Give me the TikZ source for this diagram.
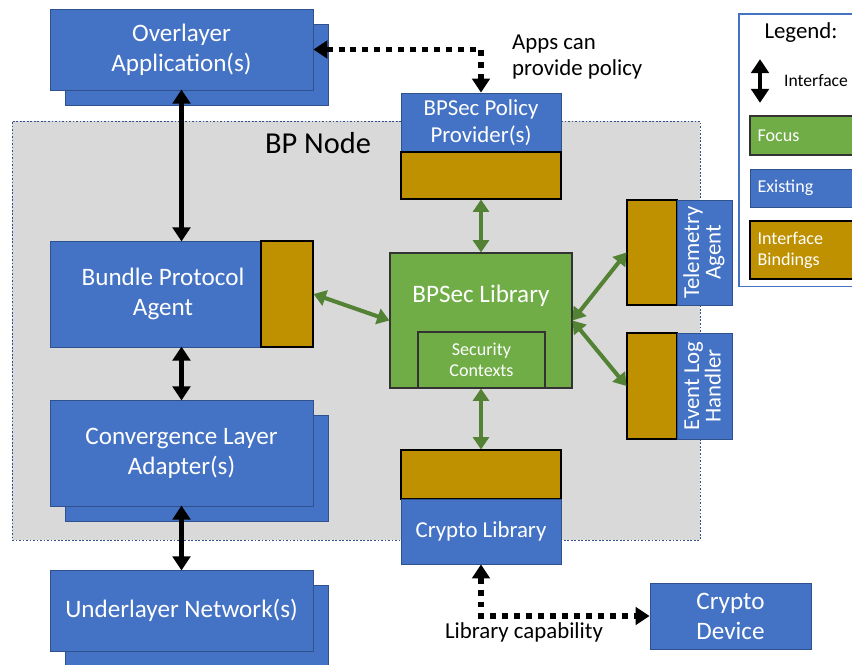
\documentclass[tikz,border=0pt]{standalone}
\usepackage{fontspec}
\setmainfont{Carlito}
\usepackage{tikz}
\usetikzlibrary{arrows.meta,positioning}

\definecolor{exblue}{HTML}{4472C4}
\definecolor{exedge}{HTML}{2F528F}
\definecolor{fcgreen}{HTML}{70AD47}
\definecolor{ifgold}{HTML}{BF9000}
\definecolor{ndgray}{HTML}{D9D9D9}
\definecolor{arrgreen}{HTML}{548235}

\begin{document}
\begin{tikzpicture}[x=0.02cm,y=-0.02cm,>=Latex,
  blubox/.style={draw=exedge,line width=0.5pt,fill=exblue,text=white,align=center,inner sep=0pt},
  grnbox/.style={draw=black!80,line width=0.6pt,fill=fcgreen,text=white,align=center,inner sep=0pt},
  gldbox/.style={draw=black,line width=0.6pt,fill=ifgold,inner sep=0pt},
  bigtxt/.style={font=\fontsize{14.3}{17}\selectfont},
  midtxt/.style={font=\fontsize{13}{15.3}\selectfont},
  smltxt/.style={font=\fontsize{10.3}{12}\selectfont},
  blkarr/.style={{Triangle[width=10pt,length=8pt]}-{Triangle[width=10pt,length=8pt]},line width=2.8pt,shorten <=-0.5pt,shorten >=-0.5pt},
  grnarr/.style={{Triangle[width=9pt,length=7pt]}-{Triangle[width=9pt,length=7pt]},line width=2.3pt,draw=arrgreen,arrgreen},
  dotarr/.style={{Triangle[width=10pt,length=8pt]}-{Triangle[width=10pt,length=8pt]},line width=3.4pt,dash pattern=on 3.4pt off 3.4pt}]
\useasboundingbox (0,0) rectangle (852,665);

% BP node area
\node[draw=exedge,fill=ndgray,line width=0.5pt,dash pattern=on 1pt off 1pt,minimum width=13.76cm,minimum height=8.38cm] (bpn) at (356,330.5) {};
\node[font=\fontsize{17.3}{20}\selectfont] (bpnt) at (318,143) {BP Node};

% stacked blue boxes
\node[blubox,minimum width=5.26cm,minimum height=1.62cm] (ovlb) at (196.5,64.5) {};
\node[blubox,bigtxt,minimum width=5.26cm,minimum height=1.62cm] (ovl) at (181.5,49.5) {Overlayer\\Application(s)};
\node[blubox,minimum width=5.26cm,minimum height=2.12cm] (clab) at (196.5,468) {};
\node[blubox,bigtxt,minimum width=5.26cm,minimum height=2.12cm] (cla) at (181.5,453) {Convergence Layer\\Adapter(s)};
\node[blubox,minimum width=5.26cm,minimum height=1.62cm] (unlb) at (196.5,625.5) {};
\node[blubox,bigtxt,minimum width=5.26cm,minimum height=1.62cm] (unl) at (181.5,610.5) {Underlayer Network(s)};

% bundle protocol agent
\node[blubox,minimum width=5.26cm,minimum height=2.12cm] (bpa) at (181.5,294) {};
\node[gldbox,minimum width=1.04cm,minimum height=2.12cm] (bpag) at (287,294) {};
\node[bigtxt,text=white,align=center] (bpat) at (163,294) {Bundle Protocol\\Agent};

% policy provider
\node[blubox,midtxt,minimum width=3.2cm,minimum height=1.18cm] (pol) at (481,122.5) {BPSec Policy\\Provider(s)};
\node[gldbox,minimum width=3.2cm,minimum height=0.94cm] (polg) at (481,175.5) {};

% bpsec library
\node[grnbox,minimum width=3.64cm,minimum height=2.7cm] (bsl) at (481,320.5) {};
\node[bigtxt,text=white] (bslt) at (481,296) {BPSec Library};
\node[grnbox,smltxt,minimum width=2.54cm,minimum height=1.12cm] (sec) at (481.5,360) {Security\\Contexts};

% crypto library
\node[gldbox,minimum width=3.2cm,minimum height=0.98cm] (cryg) at (481,474.5) {};
\node[blubox,midtxt,minimum width=3.2cm,minimum height=1.3cm] (cry) at (481,531.5) {Crypto Library};
\node[blubox,bigtxt,minimum width=3.22cm,minimum height=1.32cm] (dev) at (730.5,616) {Crypto\\Device};

% telemetry and event log
\node[gldbox,minimum width=1cm,minimum height=2.1cm] (telg) at (652,252.5) {};
\node[blubox,midtxt,minimum width=1.1cm,minimum height=2.1cm] (tel) at (704.5,252.5) {\rotatebox{90}{\begin{tabular}{@{}c@{}}Telemetry\\[-3pt]Agent\end{tabular}}};
\node[gldbox,minimum width=1cm,minimum height=2.12cm] (evtg) at (652,386) {};
\node[blubox,midtxt,minimum width=1.1cm,minimum height=2.12cm] (evt) at (704.5,386) {\rotatebox{90}{\begin{tabular}{@{}c@{}}Event Log\\[-3pt]Handler\end{tabular}}};

% legend
\node[draw=exblue,fill=white,line width=0.6pt,minimum width=2.52cm,minimum height=5.46cm] (lgd) at (802,150.5) {};
\node[font=\fontsize{13}{15}\selectfont] (lgdt) at (801,33) {Legend:};
\coordinate (lga) at (760,60);
\coordinate (lgb) at (760,102);
\node[font=\fontsize{10}{12}\selectfont,anchor=west] (lgit) at (778,81) {Interface};
\node[grnbox,smltxt,minimum width=2.2cm,minimum height=0.78cm,text width=1.9cm,align=left] (lgf) at (805,135.5) {Focus};
\node[blubox,smltxt,minimum width=2.2cm,minimum height=0.76cm,text width=1.9cm,align=left] (lge) at (805,188) {Existing};
\node[gldbox,smltxt,text=white,minimum width=2.2cm,minimum height=1.16cm,text width=1.9cm,align=left] (lgi) at (805,250) {Interface\\Bindings};

% interfaces
\draw[blkarr] (ovl.south) -- (bpa.north);
\draw[blkarr] (bpa.south) -- (cla.north);
\draw[blkarr] (cla.south) -- (unl.north);
\draw[blkarr,line width=2.4pt] (lga) -- (lgb);
\draw[grnarr] (bpag.east) -- (bsl.west);
\draw[grnarr] (polg.south) -- (bsl.north);
\draw[grnarr] (bsl.south) -- (cryg.north);
\draw[grnarr] (bsl.east) -- (telg.west);
\draw[grnarr] (bsl.east) -- (evtg.west);
\draw[dotarr] (ovl.east) -| (pol.north);
\draw[dotarr] (cry.south) |- (dev.west);

% notes
\node[midtxt,align=left,anchor=west] (appn) at (506,57) {Apps can\\provide policy};
\node[midtxt] (libn) at (524,632) {Library capability};
\end{tikzpicture}
\end{document}
